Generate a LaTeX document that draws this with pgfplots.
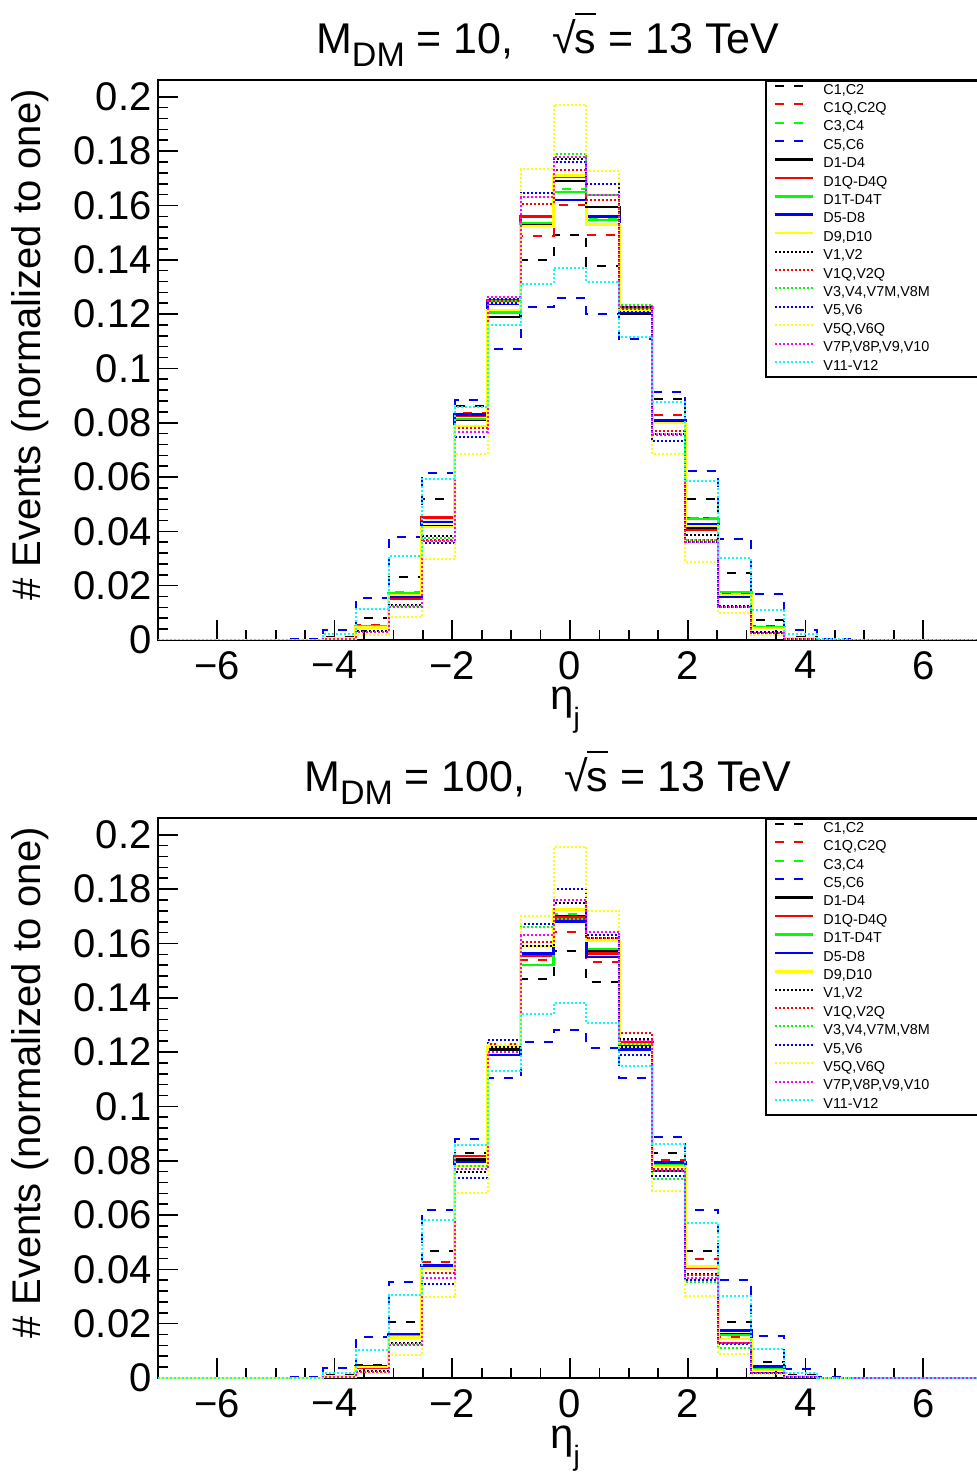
\documentclass[border=0pt]{standalone}
\usepackage{fontspec}
\setmainfont{Liberation Sans}
\usepackage{pgfplots}
\usepackage{pgfplotstable}
\pgfplotsset{compat=1.18}

\definecolor{rblack}{rgb}{0,0,0}
\definecolor{rred}{rgb}{1,0,0}
\definecolor{rgreen}{rgb}{0,1,0}
\definecolor{rblue}{rgb}{0,0,1}
\definecolor{ryellow}{rgb}{1,1,0}
\definecolor{rmagenta}{rgb}{1,0,1}
\definecolor{rcyan}{rgb}{0,1,1}

% eta_j distributions, M_DM = 10 (bin left edges; bins of width 0.56 from -7 to 7)
\pgfplotstableread{
x ca cb cc cd da db dc dd de va vb vc vd ve vf vg
-7 0 0 0 0 0 0 0 0 0 0 0 0 0 0 0 0
-4.76 0 0 0 0.0003 0 0 0 0 0 0 0 0 0 0 0 0.0001
-4.2 0.0012 0.0007 0.0007 0.0037 0.0005 0.0005 0.0005 0.0005 0.0005 0.0003 0.0003 0.0003 0.0003 0.0003 0.0003 0.0022
-3.64 0.0081 0.0055 0.0050 0.0155 0.0048 0.0048 0.0050 0.0045 0.0047 0.0033 0.0030 0.0030 0.0028 0.0020 0.0030 0.0114
-3.08 0.0232 0.0175 0.0175 0.0380 0.0165 0.0151 0.0173 0.0160 0.0165 0.0128 0.0125 0.0125 0.0120 0.0085 0.0122 0.0310
-2.52 0.0520 0.0450 0.0435 0.0615 0.0420 0.0450 0.0416 0.0435 0.0416 0.0383 0.0370 0.0375 0.0357 0.0300 0.0365 0.0593
-1.96 0.0862 0.0835 0.0815 0.0884 0.0810 0.0825 0.0814 0.0830 0.0788 0.0766 0.0780 0.0765 0.0748 0.0685 0.0766 0.0858
-1.4 0.1190 0.1240 0.1210 0.1070 0.1190 0.1250 0.1205 0.1240 0.1215 0.1250 0.1263 0.1250 0.1255 0.1240 0.1263 0.1160
-0.84 0.1400 0.1488 0.1536 0.1227 0.1530 0.1560 0.1536 0.1525 0.1525 0.1605 0.1605 0.1630 0.1647 0.1735 0.1630 0.1310
-0.28 0.1490 0.1600 0.1660 0.1260 0.1690 0.1705 0.1650 0.1620 0.1710 0.1770 0.1730 0.1790 0.1760 0.1970 0.1780 0.1370
0.28 0.1378 0.1490 0.1550 0.1200 0.1595 0.1530 0.1547 0.1560 0.1530 0.1595 0.1620 0.1640 0.1680 0.1727 0.1640 0.1320
0.84 0.1200 0.1210 0.1220 0.1110 0.1200 0.1210 0.1225 0.1210 0.1215 0.1225 0.1220 0.1234 0.1225 0.1210 0.1225 0.1116
1.4 0.0888 0.0829 0.0810 0.0913 0.0800 0.0810 0.0799 0.0810 0.0799 0.0759 0.0770 0.0759 0.0733 0.0685 0.0755 0.0877
1.96 0.0519 0.0450 0.0450 0.0622 0.0415 0.0405 0.0445 0.0427 0.0420 0.0387 0.0370 0.0370 0.0361 0.0287 0.0361 0.0586
2.52 0.0247 0.0170 0.0177 0.0372 0.0160 0.0158 0.0177 0.0158 0.0165 0.0125 0.0122 0.0122 0.0122 0.0099 0.0122 0.0302
3.08 0.0074 0.0050 0.0048 0.0169 0.0044 0.0044 0.0046 0.0044 0.0044 0.0028 0.0026 0.0026 0.0026 0.0020 0.0026 0.0110
3.64 0.0012 0.0008 0.0008 0.0037 0.0006 0.0006 0.0006 0.0006 0.0006 0.0004 0.0004 0.0004 0.0004 0.0003 0.0004 0.0022
4.2 0 0 0 0.0005 0 0 0 0 0 0 0 0 0 0 0 0.0002
4.76 0 0 0 0 0 0 0 0 0 0 0 0 0 0 0 0
7 0 0 0 0 0 0 0 0 0 0 0 0 0 0 0 0
}\tabten

% M_DM = 100
\pgfplotstableread{
x ca cb cc cd da db dc dd de va vb vc vd ve vf vg
-7 0 0 0 0 0 0 0 0 0 0 0 0 0 0 0 0
-4.76 0 0 0 0.0003 0 0 0 0 0 0 0 0 0 0 0 0.0001
-4.2 0.0010 0.0005 0.0005 0.0037 0.0005 0.0005 0.0005 0.0005 0.0005 0.0003 0.0003 0.0003 0.0003 0.0003 0.0003 0.0018
-3.64 0.0048 0.0042 0.0040 0.0150 0.0040 0.0038 0.0040 0.0042 0.0040 0.0025 0.0022 0.0022 0.0022 0.0018 0.0022 0.0103
-3.08 0.0205 0.0155 0.0155 0.0352 0.0162 0.0150 0.0155 0.0162 0.0150 0.0130 0.0125 0.0125 0.0120 0.0084 0.0121 0.0304
-2.52 0.0466 0.0426 0.0405 0.0617 0.0415 0.0410 0.0404 0.0415 0.0404 0.0385 0.0385 0.0370 0.0345 0.0298 0.0367 0.0583
-1.96 0.0829 0.0818 0.0795 0.0880 0.0805 0.0818 0.0780 0.0796 0.0780 0.0760 0.0770 0.0780 0.0737 0.0683 0.0770 0.0859
-1.4 0.1210 0.1230 0.1220 0.1104 0.1210 0.1220 0.1220 0.1189 0.1220 0.1218 0.1244 0.1230 0.1244 0.1230 0.1200 0.1130
-0.84 0.1468 0.1540 0.1520 0.1237 0.1563 0.1555 0.1520 0.1563 0.1590 0.1590 0.1607 0.1660 0.1670 0.1700 0.1630 0.1340
-0.28 0.1574 0.1644 0.1710 0.1280 0.1700 0.1695 0.1690 0.1680 0.1725 0.1750 0.1690 0.1760 0.1800 0.1956 0.1760 0.1380
0.28 0.1457 0.1530 0.1560 0.1215 0.1570 0.1563 0.1580 0.1550 0.1610 0.1620 0.1620 0.1644 0.1630 0.1720 0.1644 0.1306
0.84 0.1210 0.1230 0.1230 0.1105 0.1220 0.1235 0.1230 0.1210 0.1230 0.1250 0.1270 0.1230 0.1190 0.1220 0.1240 0.1150
1.4 0.0830 0.0803 0.0785 0.0888 0.0790 0.0782 0.0782 0.0793 0.0780 0.0763 0.0770 0.0734 0.0745 0.0690 0.0763 0.0862
1.96 0.0466 0.0437 0.0410 0.0620 0.0410 0.0405 0.0410 0.0411 0.0411 0.0382 0.0380 0.0352 0.0360 0.0301 0.0370 0.0569
2.52 0.0205 0.0150 0.0158 0.0360 0.0160 0.0143 0.0158 0.0176 0.0143 0.0128 0.0128 0.0110 0.0125 0.0088 0.0128 0.0301
3.08 0.0059 0.0035 0.0035 0.0154 0.0035 0.0030 0.0032 0.0042 0.0030 0.0020 0.0020 0.0020 0.0020 0.0016 0.0020 0.0106
3.64 0.0010 0.0005 0.0005 0.0033 0.0005 0.0005 0.0005 0.0005 0.0005 0.0003 0.0003 0.0003 0.0003 0.0003 0.0003 0.0018
4.2 0 0 0 0.0004 0 0 0 0 0 0 0 0 0 0 0 0.0001
4.76 0 0 0 0 0 0 0 0 0 0 0 0 0 0 0 0
7 0 0 0 0 0 0 0 0 0 0 0 0 0 0 0 0
}\tabhun

\pgfplotsset{
  hist/.style={const plot mark left, no marks, line width=1pt},
  hdash/.style={hist, dash pattern=on 4.5pt off 5pt},
  hsolid/.style={hist, line width=1.3pt},
  hdot/.style={hist, dash pattern=on 1pt off 1pt},
  rootaxis/.style={
    scale only axis, width=412pt, height=280pt,
    xmin=-7, xmax=7, ymin=0, ymax=0.2062,
    xtick={-6,-4,-2,0,2,4,6},
    xticklabels={−6,−4,−2,0,2,4,6},
    ytick={0,0.02,0.04,0.06,0.08,0.1,0.12,0.14,0.16,0.18,0.2},
    yticklabels={0,0.02,0.04,0.06,0.08,0.1,0.12,0.14,0.16,0.18,0.2},
    minor x tick num=3, minor y tick num=4,
    tick pos=left, tick align=inside,
    major tick length=10pt, minor tick length=5pt,
    tick style={line width=0.8pt, black},
    axis line style={line width=1pt},
    tick label style={font=\fontsize{20}{20}\selectfont},
    yticklabel style={inner sep=0pt, xshift=-3pt},
    xticklabel style={inner sep=0pt, yshift=-5.5pt},
    title style={at={(axis description cs:0.473,1)}, anchor=base, yshift=7pt, font=\fontsize{21.5}{24}\selectfont},
    xlabel={η\raisebox{-0.8ex}{\fontsize{14}{14}\selectfont j}},
    every axis x label/.style={at={(axis description cs:0.494,0)}, anchor=base, yshift=-35pt, inner sep=0pt, font=\fontsize{21}{21}\selectfont},
    ylabel={\# Events (normalized to one)},
    every axis y label/.style={at={(axis description cs:-0.1553,0.996)}, rotate=90, anchor=east, font=\fontsize{20}{20}\selectfont},
    legend cell align=left,
    legend image code/.code={\draw[##1] (0pt,2.5pt) -- (19pt,2.5pt);},
    legend style={at={(rel axis cs:0.7367,1)}, anchor=north west, draw=black, line width=0.8pt, fill=white,
      font=\fontsize{7.2}{7.2}\selectfont, inner xsep=4pt, inner ysep=0.5pt, row sep=0pt,
      nodes={inner sep=0pt, text height=6.2pt, text depth=3pt},
      /tikz/every odd column/.append style={column sep=4.5pt},
      /tikz/every even column/.append style={text width=85pt}},
  }
}

\newcommand\allplots[1]{%
  \addplot[hdash, rblack] table[x=x,y=ca]{#1}; \addlegendentry{C1,C2}
  \addplot[hdash, rred] table[x=x,y=cb]{#1}; \addlegendentry{C1Q,C2Q}
  \addplot[hdash, rgreen] table[x=x,y=cc]{#1}; \addlegendentry{C3,C4}
  \addplot[hdash, rblue] table[x=x,y=cd]{#1}; \addlegendentry{C5,C6}
  \addplot[hsolid, rblack] table[x=x,y=da]{#1}; \addlegendentry{D1-D4}
  \addplot[hsolid, rred] table[x=x,y=db]{#1}; \addlegendentry{D1Q-D4Q}
  \addplot[hsolid, rgreen] table[x=x,y=dc]{#1}; \addlegendentry{D1T-D4T}
  \addplot[hsolid, rblue] table[x=x,y=dd]{#1}; \addlegendentry{D5-D8}
  \addplot[hsolid, ryellow] table[x=x,y=de]{#1}; \addlegendentry{D9,D10}
  \addplot[hdot, rblack] table[x=x,y=va]{#1}; \addlegendentry{V1,V2}
  \addplot[hdot, rred] table[x=x,y=vb]{#1}; \addlegendentry{V1Q,V2Q}
  \addplot[hdot, rgreen] table[x=x,y=vc]{#1}; \addlegendentry{V3,V4,V7M,V8M}
  \addplot[hdot, rblue] table[x=x,y=vd]{#1}; \addlegendentry{V5,V6}
  \addplot[hdot, ryellow] table[x=x,y=ve]{#1}; \addlegendentry{V5Q,V6Q}
  \addplot[hdot, rmagenta] table[x=x,y=vf]{#1}; \addlegendentry{V7P,V8P,V9,V10}
  \addplot[hdot, rcyan] table[x=x,y=vg]{#1}; \addlegendentry{V11-V12}
}

\newcommand\sqrts{√\kern-0.5pt\rlap{\rule[0.9em]{0.48em}{0.06em}}s}

\begin{document}
\begin{tikzpicture}
\useasboundingbox (0,0) rectangle (488.5pt,736pt);
\begin{axis}[rootaxis, at={(79pt,416pt)}, anchor=south west,
  title={M\raisebox{-0.3em}{\fontsize{17}{17}\selectfont DM} = 10,\hspace{0.9em}\sqrts{} = 13 TeV}]
\allplots{\tabten}
\end{axis}
\begin{axis}[rootaxis, at={(79pt,47pt)}, anchor=south west,
  title={M\raisebox{-0.3em}{\fontsize{17}{17}\selectfont DM} = 100,\hspace{0.9em}\sqrts{} = 13 TeV}]
\allplots{\tabhun}
\end{axis}
\end{tikzpicture}
\end{document}
